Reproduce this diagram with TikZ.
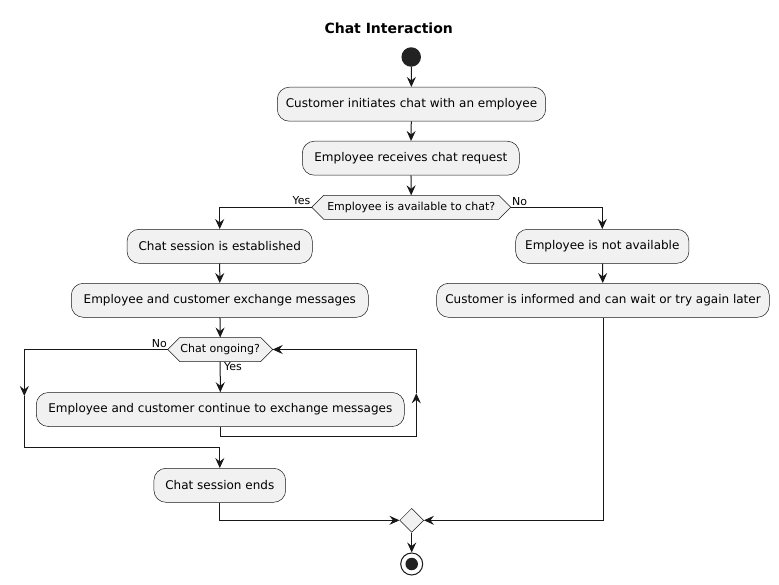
\documentclass[tikz,border=0pt]{standalone}
\usepackage{fontspec}
\setmainfont{DejaVu Sans}
\usetikzlibrary{arrows.meta,shapes.geometric}
\definecolor{boxfill}{HTML}{F1F1F1}
\definecolor{ink}{HTML}{181818}
\definecolor{dot}{HTML}{222222}

\newcommand{\myhex}[5]{% name, cx, cy, half width, text
  \draw[draw=ink, fill=boxfill, line width=0.5pt]
    ({#2-#4},#3) -- ({#2-#4+12},{#3-12}) -- ({#2+#4-12},{#3-12}) --
    ({#2+#4},#3) -- ({#2+#4-12},{#3+12}) -- ({#2-#4+12},{#3+12}) -- cycle;
  \node[font=\fontsize{11}{13}\selectfont, inner sep=0pt] (#1) at (#2,#3) {#5};
  \coordinate (#1-l) at ({#2-#4},#3);
  \coordinate (#1-r) at ({#2+#4},#3);
  \coordinate (#1-t) at (#2,{#3-12});
  \coordinate (#1-b) at (#2,{#3+12});
}

\begin{document}
\begin{tikzpicture}[x=1pt,y=-1pt,
  act/.style={draw=ink, fill=boxfill, rounded corners=12pt, minimum height=34pt,
              inner sep=0pt, line width=0.5pt, font=\fontsize{12}{14}\selectfont},
  flow/.style={draw=ink, line width=1pt},
  arr/.style={flow, -{Stealth[length=10pt,width=9pt,inset=3.5pt]}},
  lbl/.style={font=\fontsize{11}{13}\selectfont, inner sep=0pt}
]
\useasboundingbox[fill=white] (0,0) rectangle (779,584);

\node[font=\fontsize{14}{16}\selectfont\bfseries] (title) at (388.7,28.3) {Chat Interaction};

\node[circle, fill=dot, minimum size=19.5pt, inner sep=0pt] (s) at (411.2,57) {};

\node[act, minimum width=268.4pt] (a1) at (411.5,104.2) {Customer initiates chat with an employee};
\node[act, minimum width=217pt] (a2) at (410.8,158.2) {Employee receives chat request};
\myhex{d1}{411.2}{207.3}{99.5}{Employee is available to chat?}
\node[act, minimum width=185.3pt] (a3) at (219.7,246.3) {Chat session is established};
\node[act, minimum width=297pt] (a4) at (219.8,300.3) {Employee and customer exchange messages};
\myhex{d2}{220.2}{349.5}{52.5}{Chat ongoing?}
\node[act, minimum width=368pt] (a5) at (220.3,409.5) {Employee and customer continue to exchange messages};
\node[act, minimum width=131.7pt] (a6) at (219.8,485.3) {Chat session ends};
\node[act, minimum width=173.3pt] (a7) at (602.3,246.3) {Employee is not available};
\node[act, minimum width=332.6pt] (a8) at (603,300.3) {Customer is informed and can wait or try again later};

\node[diamond, draw=ink, fill=boxfill, line width=0.5pt, minimum size=24pt, inner sep=0pt] (m) at (411.7,520.3) {};
\node[circle, draw=ink, fill=white, line width=1pt, minimum size=22pt, inner sep=0pt] (e) at (411.7,564) {};
\node[circle, fill=dot, minimum size=12.5pt, inner sep=0pt] (e-in) at (e.center) {};

% labels
\node[lbl, anchor=east] (y1) at (310.5,200.8) {Yes};
\node[lbl, anchor=west] (n1) at (512,201.5) {No};
\node[lbl, anchor=east] (n2) at (167,343.3) {No};
\node[lbl, anchor=west] (y2) at (224,367) {Yes};

% helper coordinates
\coordinate (lpB) at (416.3,436);
\coordinate (lpUp) at (416.3,393.3);
\coordinate (nA) at (24.3,396);
\coordinate (nB) at (24.3,447.7);

% connectors
\draw[arr] (s) -- (a1);
\draw[arr] (a1) -- (a2);
\draw[arr] (a2) -- (d1-t);
\draw[arr] (d1-l) -| (a3.north);
\draw[arr] (d1-r) -| (a7.north);
\draw[arr] (a3) -- (a4);
\draw[arr] (a7) -- (a8);
\draw[arr] (a4) -- (d2-t);
\draw[arr] (d2-b) -- (a5.north);
\draw[arr] (a5.south) |- (lpB) -- (lpUp);
\draw[arr] (lpUp) |- (d2-r);
\draw[arr] (d2-l) -| (nA);
\draw[arr] (nA) -- (nB) -| (a6.north);
\draw[arr] (a6.south) |- (m.west);
\draw[arr] (a8.south) |- (m.east);
\draw[arr] (m) -- (e);
\end{tikzpicture}
\end{document}
